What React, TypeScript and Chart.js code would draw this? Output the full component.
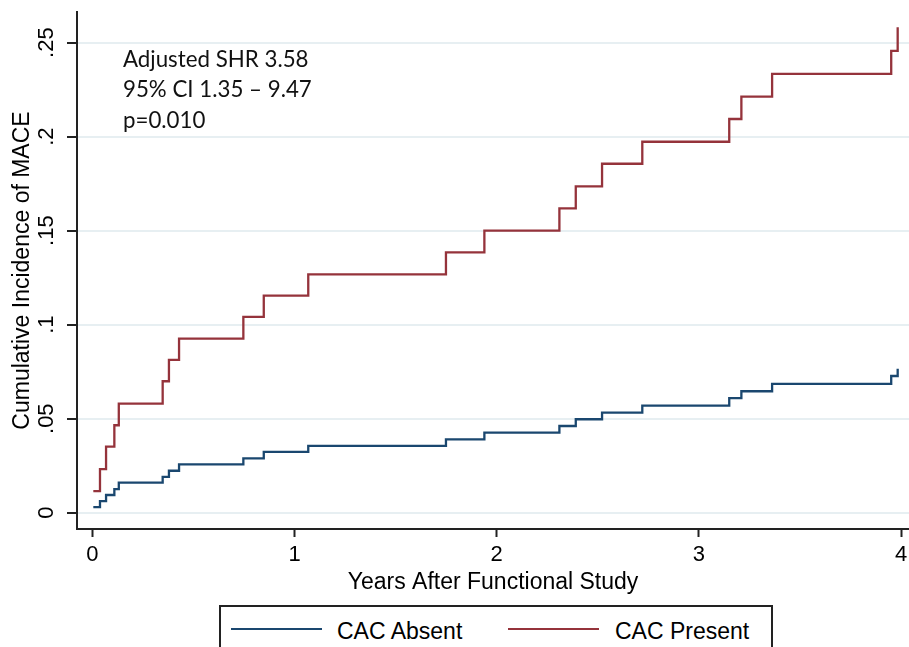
import React, { useEffect, useRef } from 'react';
import { Chart, registerables } from 'chart.js';

Chart.register(...registerables);

// Event times (years) at which both cumulative incidence curves step up
const eventTimes = [
  0.005, 0.038, 0.068, 0.109, 0.131, 0.348, 0.379, 0.429, 0.747, 0.848, 1.068,
  1.749, 1.939, 2.31, 2.391, 2.521, 2.72, 3.15, 3.21, 3.362, 3.951, 3.983,
];

// Cumulative incidence of MACE, CAC absent
const cacAbsent = [
  0.003, 0.0062, 0.0094, 0.0125, 0.016, 0.019, 0.0223, 0.0257, 0.0289, 0.0323, 0.0355,
  0.039, 0.0426, 0.0461, 0.0497, 0.0532, 0.0569, 0.0609, 0.0646, 0.0685, 0.0727, 0.0766,
];

// Cumulative incidence of MACE, CAC present
const cacPresent = [
  0.0115, 0.0232, 0.0351, 0.0465, 0.058, 0.0699, 0.0813, 0.0926, 0.1041, 0.1154, 0.1268,
  0.1385, 0.15, 0.1619, 0.1736, 0.1856, 0.1973, 0.2094, 0.2213, 0.2334, 0.2456, 0.2582,
];

const seriesNames = ['CAC Absent', 'CAC Present'];
const seriesColors = ['#1a476f', '#95333b'];

const xTicks = [0, 1, 2, 3, 4];
const xTickLabels = ['0', '1', '2', '3', '4'];
const yTicks = [0, 0.05, 0.1, 0.15, 0.2, 0.25];
const yTickLabels = ['0', '.05', '.1', '.15', '.2', '.25'];

const xTitle = 'Years After Functional Study';
const yTitle = 'Cumulative Incidence of MACE';
const annotationLines = ['Adjusted SHR 3.58', '95% CI 1.35 \u2013 9.47', 'p=0.010'];

const FONT = '"Liberation Sans", Arial, Helvetica, sans-serif';
const AXIS_COLOR = '#222222';
const GRID_COLOR = '#e7eff2';

const annotationPlugin = {
  id: 'shrAnnotation',
  afterDatasetsDraw(chart: any) {
    const { ctx, chartArea } = chart;
    ctx.save();
    ctx.font = '22.3px Lato, "Open Sans", sans-serif';
    ctx.fillStyle = '#111111';
    ctx.textAlign = 'left';
    ctx.textBaseline = 'alphabetic';
    annotationLines.forEach((line, i) => {
      ctx.fillText(line, chartArea.left + 46, chartArea.top + 54.8 + i * 30.6);
    });
    ctx.restore();
  },
};

export default function App() {
  const canvasRef = useRef<HTMLCanvasElement | null>(null);

  useEffect(() => {
    const canvas = canvasRef.current;
    if (!canvas) return;
    const seriesValues = [cacAbsent, cacPresent];
    const chart = new Chart(canvas, {
      type: 'line',
      data: {
        datasets: seriesNames.map((name, s) => ({
          label: name,
          data: eventTimes.map((t, i) => ({ x: t, y: seriesValues[s][i] })),
          borderColor: seriesColors[s],
          backgroundColor: seriesColors[s],
          borderWidth: 2.3,
          stepped: 'before' as const,
          pointRadius: 0,
          pointHoverRadius: 0,
          fill: false,
        })),
      },
      options: {
        responsive: false,
        animation: false,
        devicePixelRatio: 1,
        layout: { padding: { top: 12, left: 0, right: 0, bottom: 0 } },
        plugins: {
          legend: { display: false },
          tooltip: { enabled: false },
        },
        events: [],
        scales: {
          x: {
            type: 'linear',
            min: -0.0757,
            max: 4.039,
            afterBuildTicks: (scale: any) => {
              scale.ticks = xTicks.map((v) => ({ value: v }));
            },
            afterFit: (scale: any) => {
              scale.height = 71;
              scale.paddingLeft = 0;
              scale.paddingRight = 0;
            },
            ticks: {
              autoSkip: false,
              maxRotation: 0,
              minRotation: 0,
              padding: 5,
              color: '#000000',
              font: { family: FONT, size: 22 },
              callback: (_v: any, i: number) => xTickLabels[i],
            },
            grid: {
              drawOnChartArea: false,
              drawTicks: true,
              tickLength: 8,
              tickColor: AXIS_COLOR,
              tickWidth: 2,
            },
            border: { display: true, color: AXIS_COLOR, width: 2 },
            title: {
              display: true,
              text: xTitle,
              color: '#000000',
              font: { family: FONT, size: 23 },
              padding: { top: 0, bottom: 4 },
            },
          },
          y: {
            type: 'linear',
            min: -0.00867,
            max: 0.2663,
            afterBuildTicks: (scale: any) => {
              scale.ticks = yTicks.map((v) => ({ value: v }));
            },
            afterFit: (scale: any) => {
              scale.width = 77;
              scale.paddingTop = 0;
              scale.paddingBottom = 0;
            },
            ticks: {
              autoSkip: false,
              minRotation: 90,
              maxRotation: 90,
              crossAlign: 'center',
              padding: 5,
              color: '#000000',
              font: { family: FONT, size: 22 },
              callback: (_v: any, i: number) => yTickLabels[i],
            },
            grid: {
              color: GRID_COLOR,
              lineWidth: 2,
              drawTicks: true,
              tickLength: 10,
              tickColor: AXIS_COLOR,
              tickWidth: 2,
            },
            border: { display: true, color: AXIS_COLOR, width: 2 },
            title: {
              display: true,
              text: yTitle,
              color: '#000000',
              font: { family: FONT, size: 23 },
              padding: { top: 9, bottom: 0 },
            },
          },
        },
      },
      plugins: [annotationPlugin],
    });
    return () => chart.destroy();
  }, []);

  const legendLineLeft = [10, 287];
  const legendTextLeft = [116, 394];

  return (
    <div
      style={{
        position: 'absolute',
        left: 0,
        top: 0,
        width: 909,
        height: 647,
        overflow: 'hidden',
        background: '#ffffff',
      }}
    >
      <canvas ref={canvasRef} width={909} height={600} style={{ display: 'block', width: 909, height: 600 }} />
      <div
        style={{
          position: 'absolute',
          left: 219,
          top: 605,
          width: 554,
          height: 70,
          border: `2px solid ${AXIS_COLOR}`,
          boxSizing: 'border-box',
          fontFamily: FONT,
        }}
      >
        {seriesNames.map((name, i) => (
          <React.Fragment key={name}>
            <div
              style={{
                position: 'absolute',
                left: legendLineLeft[i],
                top: 21,
                width: 91,
                height: 2,
                background: seriesColors[i],
              }}
            />
            <div
              style={{
                position: 'absolute',
                left: legendTextLeft[i],
                top: 10.5,
                fontSize: 23,
                lineHeight: '26px',
                color: '#000000',
                whiteSpace: 'nowrap',
              }}
            >
              {name}
            </div>
          </React.Fragment>
        ))}
      </div>
    </div>
  );
}
